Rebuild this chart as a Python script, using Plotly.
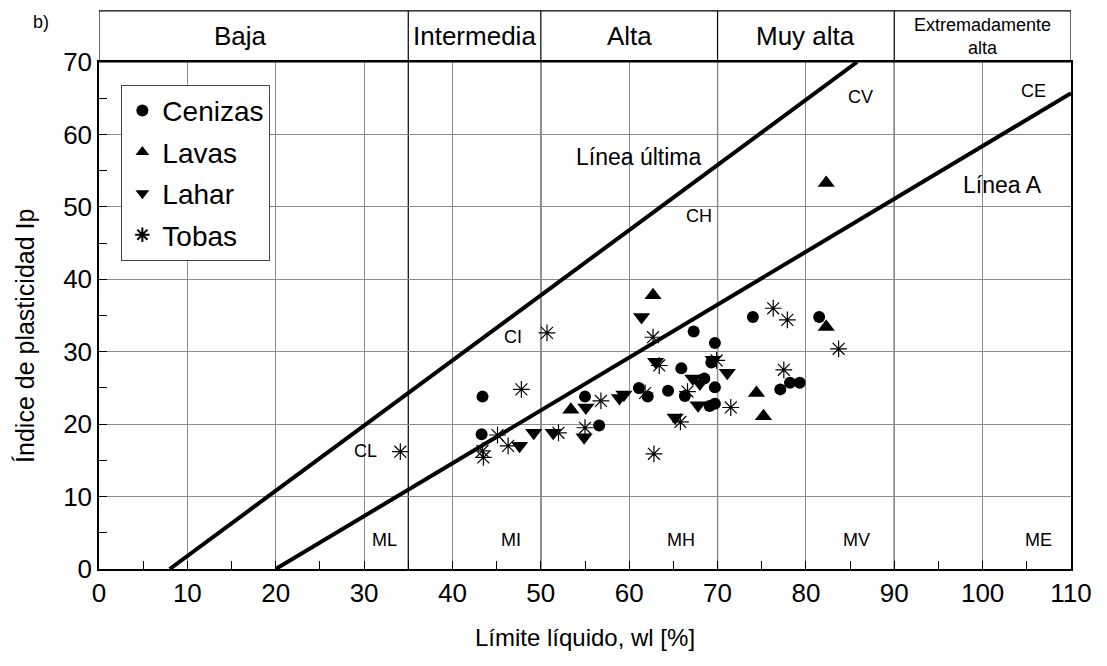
import plotly.graph_objects as go

# ---------------- data ----------------
cenizas_x = [43.4, 43.3, 55.0, 56.6, 61.1, 62.1, 64.4, 65.9, 66.3, 67.3, 68.5, 69.3, 69.7, 69.7, 69.1, 69.7, 74.0, 77.1, 78.2, 79.3, 81.5]
cenizas_y = [23.8, 18.6, 23.8, 19.8, 25.0, 23.8, 24.6, 27.7, 23.9, 32.8, 26.3, 28.5, 31.2, 25.1, 22.5, 22.8, 34.8, 24.8, 25.7, 25.7, 34.8]

lavas_x = [53.4, 62.7, 74.4, 75.2, 82.3, 82.3]
lavas_y = [22.0, 37.8, 24.3, 21.1, 53.3, 33.4]

lahar_x = [47.6, 49.2, 51.4, 54.9, 55.1, 58.9, 59.4, 61.4, 63.0, 65.2, 67.2, 68.0, 67.8, 69.5, 71.1]
lahar_y = [17.0, 18.8, 18.8, 18.2, 22.3, 23.6, 24.1, 34.8, 28.6, 20.9, 26.3, 25.6, 22.6, 28.9, 27.1]

tobas_x = [34.1, 43.4, 43.5, 45.1, 46.3, 47.8, 50.7, 52.0, 55.0, 56.8, 61.8, 62.7, 62.8, 63.4, 65.8, 66.6, 69.9, 71.5, 76.3, 77.9, 77.5, 83.7]
tobas_y = [16.2, 16.3, 15.4, 18.5, 17.0, 24.8, 32.6, 18.8, 19.5, 23.2, 24.3, 32.0, 15.9, 28.1, 20.3, 24.5, 28.8, 22.3, 36.0, 34.4, 27.5, 30.4]

# reference lines (Línea última, Línea A)
u_line_x = [8, 85.8]
u_line_y = [0, 70]
a_line_x = [20, 110]
a_line_y = [0, 65.7]

# plasticity bands
band_labels = ["Baja", "Intermedia", "Alta", "Muy alta", "Extremadamente<br>alta"]
band_label_x = [16, 42.5, 60, 80, 100]
band_bounds = [35, 50, 70, 90]

zone_labels = ["CL", "CI", "CH", "CV", "CE", "ML", "MI", "MH", "MV", "ME"]
zone_x = [30.2, 46.9, 67.9, 86.2, 105.7, 32.3, 46.6, 65.9, 85.7, 106.3]
zone_y = [16.3, 32.0, 48.8, 65.1, 66.0, 4.0, 4.0, 4.0, 4.0, 4.0]

x_ticks = list(range(0, 111, 10))
y_ticks = list(range(0, 71, 10))

FONT = "Liberation Sans, Arial, sans-serif"

fig = go.Figure()

fig.add_trace(go.Scatter(x=u_line_x, y=u_line_y, mode="lines",
                         line=dict(color="black", width=4), showlegend=False, hoverinfo="skip"))
fig.add_trace(go.Scatter(x=a_line_x, y=a_line_y, mode="lines",
                         line=dict(color="black", width=4), showlegend=False, hoverinfo="skip"))

fig.add_trace(go.Scatter(x=cenizas_x, y=cenizas_y, mode="markers", name="Cenizas", legendgroup="a",
                         marker=dict(symbol="circle", size=12, color="black")))
fig.add_trace(go.Scatter(x=lavas_x, y=lavas_y, mode="markers", name="Lavas", legendgroup="b",
                         marker=dict(symbol="triangle-up", size=15, color="black")))
fig.add_trace(go.Scatter(x=lahar_x, y=lahar_y, mode="markers", name="Lahar", legendgroup="c",
                         marker=dict(symbol="triangle-down", size=15, color="black")))
fig.add_trace(go.Scatter(x=tobas_x, y=tobas_y, mode="markers", name="Tobas", legendgroup="d",
                         marker=dict(symbol="asterisk-open", size=14, color="black",
                                     line=dict(color="black", width=1.2))))

band_top = 1 + 51 / 506.0
shapes = []
shapes.append(dict(type="rect", xref="x", yref="paper", x0=0, x1=110, y0=1, y1=band_top,
                   line=dict(color="black", width=1.2), layer="above"))
for b in band_bounds:
    shapes.append(dict(type="line", xref="x", yref="paper", x0=b, x1=b, y0=0, y1=band_top,
                       line=dict(color="black", width=1.2), layer="below"))

annotations = []
for lab, bx in zip(band_labels, band_label_x):
    small = "Extremadamente" in lab
    annotations.append(dict(x=bx, y=(1 + band_top) / 2, xref="x", yref="paper", text=lab,
                            showarrow=False, yanchor="middle",
                            font=dict(family=FONT, size=18 if small else 26, color="black")))
for lab, zx, zy in zip(zone_labels, zone_x, zone_y):
    annotations.append(dict(x=zx, y=zy, xref="x", yref="y", text=lab, showarrow=False,
                            font=dict(family=FONT, size=18, color="black")))
annotations.append(dict(x=61.1, y=56.9, xref="x", yref="y", text="Línea última", showarrow=False,
                        font=dict(family=FONT, size=23, color="black")))
annotations.append(dict(x=102.3, y=53.0, xref="x", yref="y", text="Línea A", showarrow=False,
                        font=dict(family=FONT, size=23, color="black")))
annotations.append(dict(x=-0.07, y=1.079, xref="paper", yref="paper", text="b)", showarrow=False,
                        yanchor="middle",
                        font=dict(family=FONT, size=18, color="black")))
# y-axis title
annotations.append(dict(x=-0.076, y=0.46, xref="paper", yref="paper", text="Índice de plasticidad Ip",
                        showarrow=False, textangle=-90, xanchor="center", yanchor="middle",
                        font=dict(family=FONT, size=25, color="black")))

fig.update_layout(
    width=1107, height=666,
    margin=dict(l=99, r=36, t=62, b=97),
    paper_bgcolor="white", plot_bgcolor="white",
    font=dict(family=FONT, color="black"),
    shapes=shapes, annotations=annotations,
    legend=dict(x=0.023, y=0.955, xanchor="left", yanchor="top",
                bgcolor="white", bordercolor="#444", borderwidth=1,
                font=dict(family=FONT, size=28, color="black"),
                tracegroupgap=2, itemsizing="constant"),
    xaxis=dict(range=[0, 110], tickvals=x_ticks, ticks="inside", ticklen=8, tickcolor="black",
               showgrid=True, gridcolor="#8c8c8c", gridwidth=1,
               showline=True, linecolor="black", linewidth=1.5, mirror=True,
               minor=dict(dtick=5, ticks="inside", ticklen=8, tickcolor="black", showgrid=False),
               tickfont=dict(family=FONT, size=26, color="black"),
               title=dict(text="Límite líquido, wl [%]", font=dict(family=FONT, size=24), standoff=22),
               zeroline=False),
    yaxis=dict(range=[0, 70], tickvals=y_ticks, ticks="inside", ticklen=8, tickcolor="black",
               showgrid=True, gridcolor="#8c8c8c", gridwidth=1,
               showline=True, linecolor="black", linewidth=1.5, mirror=True,
               minor=dict(dtick=5, ticks="inside", ticklen=8, tickcolor="black", showgrid=False),
               tickfont=dict(family=FONT, size=26, color="black"),
               zeroline=False),
)

fig.write_html("out.html")
